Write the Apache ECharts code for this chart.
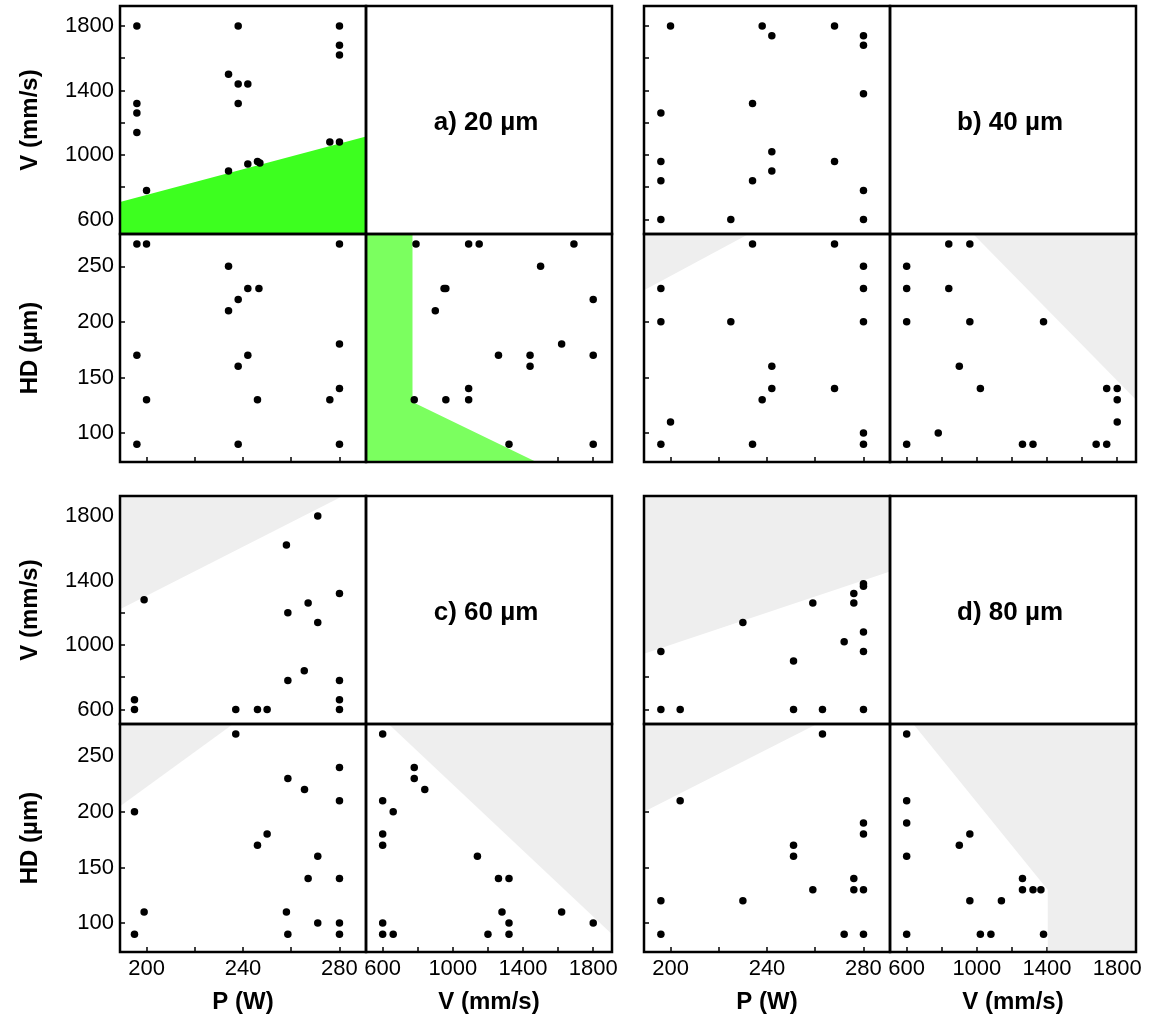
<!DOCTYPE html>
<html><head><meta charset="utf-8">
<script src="https://cdn.jsdelivr.net/npm/echarts@6/dist/echarts.min.js"></script>
<style>html,body{margin:0;padding:0;background:#fff}#c{width:1151px;height:1022px}</style>
</head><body><div id="c"></div>
<script>
// ---------- axis ranges & ticks ----------
const P_RANGE = [189, 291];
const VY_RANGE = [510, 1924];
const HD_RANGE = [74, 279];
const VX_RANGE = [505, 1907];
const pTicks = [200, 220, 240, 260, 280];
const pLabels = [200, 240, 280];
const vTicks = [600, 800, 1000, 1200, 1400, 1600, 1800];
const vLabels = [600, 1000, 1400, 1800];
const hdTicks = [100, 150, 200, 250];
const hdLabels = [100, 150, 200, 250];

const panelLabels = ['a) 20 µm', 'b) 40 µm', 'c) 60 µm', 'd) 80 µm'];
const axisNames = { P: 'P (W)', V: 'V (mm/s)', HD: 'HD (µm)' };

// ---------- data: a) 20 µm ----------
const aPV = [[196,1800],[196,1320],[196,1260],[196,1140],[200,780],[234,1500],[234,900],[238,1800],[238,1440],[238,1320],[242,1440],[242,944],[246,960],[247,950],[276,1080],[280,1800],[280,1680],[280,1620],[280,1080]];
const aPHD = [[196,270],[200,270],[234,250],[242,230],[246.6,230],[238,220],[234,210],[196,170],[242,170],[238,160],[200,130],[246,130],[276,130],[280,270],[280,180],[280,140],[196,90],[238,90],[280,90]];
const aVHD = [[790,270],[1090,270],[1150,270],[1690,270],[1500,250],[950,230],[960,230],[900,210],[1800,220],[1620,180],[1260,170],[1440,170],[1440,160],[1800,170],[1090,140],[780,130],[960,130],[1090,130],[1320,90],[1800,90]];
const aFillPV = [[P_RANGE[0],709],[P_RANGE[1],1115],[P_RANGE[1],VY_RANGE[0]],[P_RANGE[0],VY_RANGE[0]]];
const aFillVHD = [[VX_RANGE[0],HD_RANGE[1]],[770,HD_RANGE[1]],[770,128],[1476,HD_RANGE[0]],[VX_RANGE[0],HD_RANGE[0]]];

// ---------- data: b) 40 µm ----------
const bPV = [[196,600],[196,840],[196,960],[196,1260],[200,1800],[225,600],[234,1320],[234,840],[238,1800],[242,1740],[242,1020],[242,900],[268,1800],[268,960],[280,1740],[280,1680],[280,1380],[280,780],[280,600]];
const bPHD = [[196,230],[196,200],[196,90],[200,110],[225,200],[234,270],[234,90],[238,130],[242,160],[242,140],[268,270],[268,140],[280,250],[280,230],[280,200],[280,100],[280,90]];
const bVHD = [[600,250],[600,230],[600,200],[600,90],[840,270],[960,270],[840,230],[960,200],[1380,200],[900,160],[1020,140],[780,100],[1260,90],[1320,90],[1680,90],[1740,90],[1740,140],[1800,140],[1800,130],[1800,110]];
const bFillPHD = [[P_RANGE[0],228.5],[232.4,HD_RANGE[1]],[P_RANGE[0],HD_RANGE[1]]];
const bFillVHD = [[979,HD_RANGE[1]],[VX_RANGE[1],HD_RANGE[1]],[VX_RANGE[1],130]];

// ---------- data: c) 60 µm ----------
const cPV = [[195,660],[195,600],[199,1280],[237,600],[246,600],[250,600],[258,1620],[258.6,1200],[258.6,780],[265.4,840],[267,1260],[271,1800],[271,1140],[280,1320],[280,780],[280,660],[280,600]];
const cPHD = [[195,90],[195,200],[199,110],[237,270],[246,170],[250,180],[258.6,230],[258,110],[258.6,90],[265.5,220],[267,140],[271,160],[271,100],[280,240],[280,210],[280,140],[280,100],[280,90]];
const cVHD = [[600,270],[600,210],[600,180],[600,170],[600,100],[600,90],[660,200],[660,90],[780,240],[780,230],[840,220],[1140,160],[1260,140],[1320,140],[1280,110],[1320,100],[1200,90],[1320,90],[1620,110],[1800,100]];
const cFillPV = [[P_RANGE[0],1221],[281.4,VY_RANGE[1]],[P_RANGE[0],VY_RANGE[1]]];
const cFillPHD = [[P_RANGE[0],205],[235.9,HD_RANGE[1]],[P_RANGE[0],HD_RANGE[1]]];
const cFillVHD = [[634,HD_RANGE[1]],[VX_RANGE[1],HD_RANGE[1]],[VX_RANGE[1],90]];

// ---------- data: d) 80 µm ----------
const dPV = [[196,600],[196,960],[204,600],[230,1140],[251,900],[251,600],[259,1260],[263,600],[272,1020],[276,1320],[276,1260],[280,1380],[280,1365],[280,1080],[280,960],[280,600]];
const dPHD = [[196,90],[196,120],[204,210],[230,120],[251,170],[251,160],[259,130],[263,270],[272,90],[276,140],[276,130],[280,190],[280,180],[280,130],[280,90]];
const dVHD = [[600,270],[600,210],[600,190],[600,160],[600,90],[900,170],[960,180],[960,120],[1020,90],[1080,90],[1140,120],[1260,140],[1260,130],[1320,130],[1365,130],[1380,90]];
const dFillPV = [[P_RANGE[0],946],[P_RANGE[1],1456],[P_RANGE[1],VY_RANGE[1]],[P_RANGE[0],VY_RANGE[1]]];
const dFillPHD = [[P_RANGE[0],200],[260.7,HD_RANGE[1]],[P_RANGE[0],HD_RANGE[1]]];
const dFillVHD = [[638,HD_RANGE[1]],[VX_RANGE[1],HD_RANGE[1]],[VX_RANGE[1],HD_RANGE[0]],[1404,HD_RANGE[0]],[1404,130]];

// ---------- styling / layout ----------
const GREEN = '#3DFF1F', LIGHTGREEN = '#7BFF5F', GREY = '#EEEEEE';
const FONT = '"Liberation Sans", Arial, sans-serif';
const GL = [120, 644], GT = [6, 496], CW = 246, CH = 228;

const groups = [
  { label: panelLabels[0], pv: aPV, phd: aPHD, vhd: aVHD, fills: [[0, aFillPV, GREEN], [2, aFillVHD, LIGHTGREEN]] },
  { label: panelLabels[1], pv: bPV, phd: bPHD, vhd: bVHD, fills: [[1, bFillPHD, GREY], [2, bFillVHD, GREY]] },
  { label: panelLabels[2], pv: cPV, phd: cPHD, vhd: cVHD, fills: [[0, cFillPV, GREY], [1, cFillPHD, GREY], [2, cFillVHD, GREY]] },
  { label: panelLabels[3], pv: dPV, phd: dPHD, vhd: dVHD, fills: [[0, dFillPV, GREY], [1, dFillPHD, GREY], [2, dFillVHD, GREY]] }
];

const grid = [], xAxis = [], yAxis = [], series = [], graphic = [];
const labelStyle = { color: '#000', fontSize: 22, fontFamily: FONT, margin: 6, formatter: v => String(v) };
const nameStyle = { color: '#000', fontSize: 24, fontWeight: 'bold', fontFamily: FONT };

function mkAxis(range, ticks, labels, showTicks, showLabels, name, gap, isY) {
  return {
    type: 'value', min: range[0], max: range[1],
    axisLine: { show: false },
    splitLine: { show: false },
    axisTick: { show: showTicks, inside: true, length: 5, lineStyle: { color: '#000', width: 1.5 }, customValues: ticks },
    axisLabel: Object.assign({ show: showLabels, customValues: labels }, labelStyle),
    name: showLabels ? name : '',
    nameLocation: 'middle', nameGap: gap, nameRotate: isY ? 90 : 0,
    nameMoveOverlap: false,
    nameTextStyle: nameStyle
  };
}

function polySeries(ai, verts, color) {
  return {
    type: 'custom', xAxisIndex: ai, yAxisIndex: ai, data: verts, clip: true, z: 1, silent: true,
    renderItem: (params, api) => params.dataIndex === 0
      ? { type: 'polygon', shape: { points: verts.map(v => api.coord(v)) }, style: { fill: color } }
      : null
  };
}

groups.forEach((g, gi) => {
  const col = gi % 2, row = gi >> 1;
  const showLeft = col === 0, showBottom = row === 1;
  const L = GL[col], T = GT[row];
  const cells = [
    { left: L, top: T },            // P-V
    { left: L, top: T + CH },       // P-HD
    { left: L + CW, top: T + CH }   // V-HD
  ];
  const base = grid.length;
  cells.forEach(c => grid.push({ left: c.left, top: c.top, width: CW, height: CH, show: false }));
  // P-V
  xAxis.push(mkAxis(P_RANGE, pTicks, pLabels, false, false, '', 0, false));
  yAxis.push(mkAxis(VY_RANGE, vTicks, vLabels, true, showLeft, axisNames.V, 78, true));
  // P-HD
  xAxis.push(mkAxis(P_RANGE, pTicks, pLabels, true, showBottom, axisNames.P, 38, false));
  yAxis.push(mkAxis(HD_RANGE, hdTicks, hdLabels, true, showLeft, axisNames.HD, 78, true));
  // V-HD
  xAxis.push(mkAxis(VX_RANGE, vTicks, vLabels, true, showBottom, axisNames.V, 38, false));
  yAxis.push(mkAxis(HD_RANGE, hdTicks, hdLabels, false, false, '', 0, true));
  xAxis.forEach((a, i) => { if (i >= base) a.gridIndex = i; });
  yAxis.forEach((a, i) => { if (i >= base) a.gridIndex = i; });

  g.fills.forEach(f => series.push(polySeries(base + f[0], f[1], f[2])));
  [g.pv, g.phd, g.vhd].forEach((d, k) => series.push({
    type: 'scatter', xAxisIndex: base + k, yAxisIndex: base + k, data: d,
    symbolSize: 7.5, itemStyle: { color: '#000', opacity: 1 }, z: 3, silent: true
  }));

  // frames
  [[L, T], [L + CW, T], [L, T + CH], [L + CW, T + CH]].forEach(p => graphic.push({
    type: 'rect', z: 100, silent: true,
    shape: { x: p[0], y: p[1], width: CW, height: CH },
    style: { fill: null, stroke: '#000', lineWidth: 2.5 }
  }));
  graphic.push({
    type: 'text', z: 100, x: L + CW * 1.5 - 3, y: T + CH / 2 + 3,
    style: { text: g.label, fill: '#000', font: 'bold 26px ' + FONT, textAlign: 'center', textVerticalAlign: 'middle' }
  });
});

const chart = echarts.init(document.getElementById('c'), null, { renderer: 'canvas' });
chart.setOption({
  animation: false,
  backgroundColor: '#fff',
  grid, xAxis, yAxis, series, graphic
});
</script>
</body></html>
